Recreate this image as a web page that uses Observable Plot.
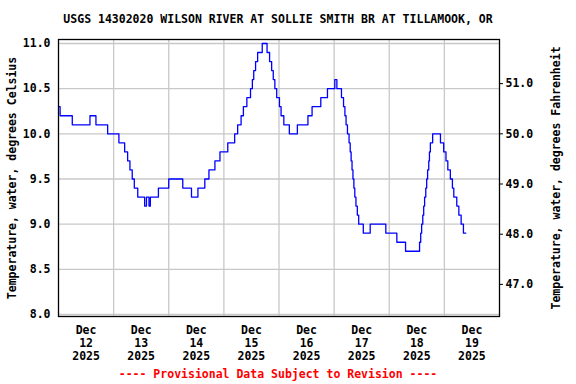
<!DOCTYPE html>
<html>
<head>
<meta charset="utf-8">
<script src="https://cdn.jsdelivr.net/npm/d3@7"></script>
<script src="https://cdn.jsdelivr.net/npm/@observablehq/plot@0.6"></script>
<style>
  body { margin: 0; background: #fff; width: 576px; height: 384px; overflow: hidden; }
  .t { font-family: "DejaVu Sans Mono", monospace; font-weight: bold; font-size: 11.5px; text-align: center; width: 556px; }
  #title { padding-top: 8px; height: 22px; line-height: 22px; color: #000; }
  #foot { height: 20px; line-height: 20px; color: #ff0000; }
  svg { display: block; }
</style>
</head>
<body>
<div id="title" class="t">USGS 14302020 WILSON RIVER AT SOLLIE SMITH BR AT TILLAMOOK, OR</div>
<div id="chart"></div>
<div id="foot" class="t">---- Provisional Data Subject to Revision ----</div>
<script>
// Hours since 2025-12-12 00:00 at which the reading changes, and the reading (deg C)
const hourOffsets = [0, 0.7, 6.0, 13.7, 16.3, 21.4, 26.3, 28.8, 30.1, 31.1, 32.1, 33.0, 34.5, 37.5, 38.3, 39.4, 40.0, 43.5,
  48.0, 54.1, 57.9, 60.7, 63.7, 65.5, 68.1, 70.3, 73.7, 76.7, 78.0, 79.5, 80.5, 82.0, 83.6, 84.4, 85.0, 85.8, 86.7, 88.7,
  90.8, 91.9, 92.8, 93.5, 94.2, 95.0, 96.2, 96.9, 98.1, 100.5, 104.0, 108.6, 110.4, 114.2, 117.1, 120.3, 121.2, 123.2,
  124.1, 124.7, 125.2, 125.8, 126.5, 127.0, 127.4, 127.8, 128.2, 128.6, 129.0, 129.5, 130.1, 130.7, 132.7, 135.7, 142.5,
  147.3, 151.1, 157.2, 157.7, 158.1, 158.6, 159.0, 159.4, 159.9, 160.3, 160.7, 161.2, 161.5, 161.9, 162.9,
  166.3, 167.7, 168.7, 169.5, 170.6, 171.5, 172.1, 173.4, 174.3, 175.3, 176.3, 177.3];
const tempC = [10.3, 10.2, 10.1, 10.2, 10.1, 10.0, 9.9, 9.8, 9.7, 9.6, 9.5, 9.4, 9.3, 9.2, 9.3, 9.2, 9.3, 9.4,
  9.5, 9.4, 9.3, 9.4, 9.5, 9.6, 9.7, 9.8, 9.9, 10.0, 10.1, 10.2, 10.3, 10.4, 10.5, 10.6, 10.7, 10.8, 10.9, 11.0,
  10.9, 10.8, 10.7, 10.6, 10.5, 10.4, 10.3, 10.2, 10.1, 10.0, 10.1, 10.2, 10.3, 10.4, 10.5, 10.6, 10.5, 10.4,
  10.3, 10.2, 10.1, 10.0, 9.9, 9.8, 9.7, 9.6, 9.5, 9.4, 9.3, 9.2, 9.1, 9.0, 8.9, 9.0, 8.9,
  8.8, 8.7, 8.8, 8.9, 9.0, 9.1, 9.2, 9.3, 9.4, 9.5, 9.6, 9.7, 9.8, 9.9, 10.0,
  9.9, 9.8, 9.7, 9.6, 9.5, 9.4, 9.3, 9.2, 9.1, 9.0, 8.9, 8.9];

const days = [12, 13, 14, 15, 16, 17, 18, 19];
const monthLabel = "Dec";
const yearLabel = "2025";
const celsiusTicks = [8.0, 8.5, 9.0, 9.5, 10.0, 10.5, 11.0];
const fahrenheitTicks = [47, 48, 49, 50, 51];

const start = new Date(2025, 11, 12, 0, 0);
const H = 3600 * 1000;
const data = hourOffsets.map((h, i) => ({ t: new Date(+start + h * H), c: tempC[i] }));
const noons = days.map(d => new Date(2025, 11, d, 12));
const midnights = days.slice(1).map(d => new Date(2025, 11, d, 0));
const toC = f => (f - 32) * 5 / 9;

const font = '"DejaVu Sans Mono", monospace';

const chart = Plot.plot({
  width: 576,
  height: 334,
  marginTop: 9,
  marginBottom: 48,
  marginLeft: 58,
  marginRight: 77,
  style: { fontFamily: font, fontSize: "11.5px", fontWeight: "bold", background: "#fff", color: "#000" },
  x: { type: "time", domain: [new Date(2025, 11, 12), new Date(2025, 11, 20)] },
  y: { domain: [7.978, 11.044] },
  marks: [
    Plot.gridY({ ticks: celsiusTicks, stroke: "#c8c8c8", strokeOpacity: 1, strokeWidth: 1.3 }),
    Plot.gridX({ ticks: midnights, stroke: "#c8c8c8", strokeOpacity: 1, strokeWidth: 1.3 }),
    Plot.line(data, { x: "t", y: "c", curve: "step-after", stroke: "#0000ff", strokeWidth: 1.3 }),
    Plot.frame({ stroke: "#000", strokeWidth: 1.3 }),
    Plot.axisY({ anchor: "left", ticks: celsiusTicks, tickFormat: d => d.toFixed(1), tickSize: 0, tickPadding: 8,
      label: "Temperature, water, degrees Celsius", labelAnchor: "center", labelOffset: 51, labelArrow: "none" }),
    Plot.axisY({ anchor: "right", ticks: fahrenheitTicks.map(toC), tickFormat: c => (c * 9 / 5 + 32).toFixed(1),
      tickSize: 3, tickPadding: 3,
      label: "Temperature, water, degrees Fahrenheit", labelAnchor: "center", labelOffset: 60, labelArrow: "none" }),
    Plot.axisX({ ticks: noons, tickFormat: d => `${monthLabel}\n${d.getDate()}\n${yearLabel}`, tickSize: 0, tickPadding: 8,
      lineHeight: 1.13, label: null })
  ]
});
document.getElementById("chart").appendChild(chart);
</script>
</body>
</html>
